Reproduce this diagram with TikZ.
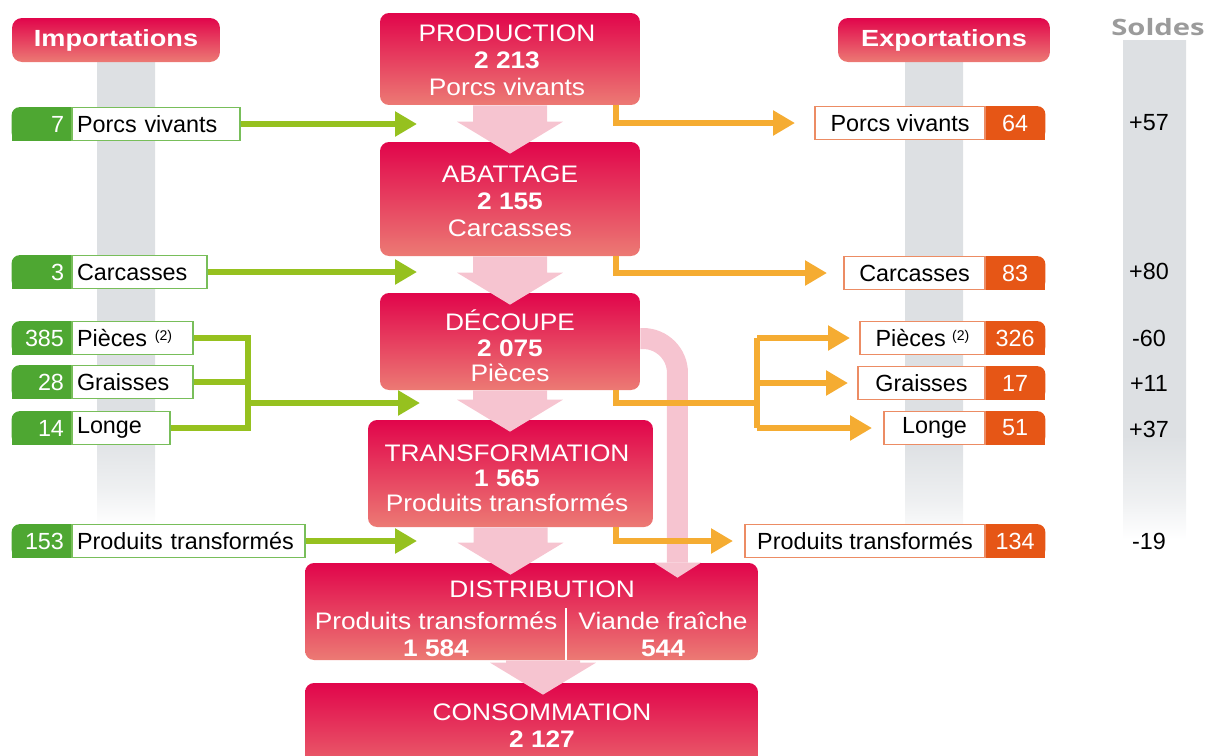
\documentclass[tikz,border=0pt]{standalone}
\usepackage{fontspec}
\setmainfont{Liberation Sans}
\newfontfamily\boxfont[FakeStretch=1.1]{Liberation Sans}
\newfontfamily\hdrfont[FakeStretch=1.16]{Liberation Sans}
\newfontfamily\soldfont[FakeStretch=1.3]{Open Sans}
\usetikzlibrary{arrows.meta,calc}

\definecolor{boxtop}{RGB}{225,5,75}
\definecolor{boxbot}{RGB}{236,122,116}
\definecolor{pinkarr}{RGB}{246,196,208}
\definecolor{gnum}{RGB}{78,167,50}
\definecolor{gborder}{RGB}{120,190,90}
\definecolor{garrow}{RGB}{150,193,31}
\definecolor{onum}{RGB}{230,86,22}
\definecolor{oborder}{RGB}{236,140,100}
\definecolor{oarrow}{RGB}{245,172,50}
\definecolor{colgray}{RGB}{221,224,227}
\definecolor{soldgray}{RGB}{155,155,155}

\pgfdeclareverticalshading{colfade}{100bp}{color(0bp)=(white); color(27bp)=(white); color(31bp)=(colgray!50); color(37bp)=(colgray); color(100bp)=(colgray)}

\pgfdeclarelayer{cols}
\pgfdeclarelayer{fills}
\pgfsetlayers{cols,fills,main}

\newcommand\roundTL[2]{\begin{pgfonlayer}{fills}
 \fill[#2,rounded corners=0.16cm] (#1.south west) rectangle (#1.north east);
 \fill[#2] ([yshift=-0.2cm]#1.north west) rectangle (#1.south east);
 \fill[#2] ([xshift=0.2cm]#1.north west) rectangle (#1.south east);
\end{pgfonlayer}}
\newcommand\roundTR[2]{\begin{pgfonlayer}{fills}
 \fill[#2,rounded corners=0.16cm] (#1.south west) rectangle (#1.north east);
 \fill[#2] ([yshift=-0.2cm]#1.north west) rectangle (#1.south east);
 \fill[#2] (#1.north west) rectangle ([xshift=-0.2cm]#1.south east);
\end{pgfonlayer}}
\newcommand\bigarrow[3]{%
 \coordinate (ba1) at ([xshift=#3]#1.south);
 \coordinate (ba2) at (ba1 |- #2.north);
 \fill[pinkarr] ([xshift=-0.74cm]ba1) -- ([xshift=0.74cm]ba1) -- ([xshift=0.74cm,yshift=0.4cm]ba2) -- ([xshift=1.06cm,yshift=0.4cm]ba2) -- ([yshift=-0.24cm]ba2) -- ([xshift=-1.06cm,yshift=0.4cm]ba2) -- ([xshift=-0.74cm,yshift=0.4cm]ba2) -- cycle;}
\newcommand\piecenote{\raisebox{0.45ex}{\fontsize{8}{8}\selectfont(2)}}

\tikzset{
 bigbox/.style={rounded corners=0.18cm, top color=boxtop, bottom color=boxbot, inner sep=0pt, draw=none},
 boxtxt/.style={text=white, align=center, inner sep=0pt, font=\boxfont\fontsize{13.6}{15.3}\selectfont},
 hdr/.style={rounded corners=0.2cm, top color=boxtop, bottom color=boxbot, text=white, minimum height=0.88cm, inner sep=0pt, font=\hdrfont\bfseries\fontsize{13.3}{15}\selectfont},
 soldehdr/.style={text=soldgray, inner sep=0pt, font=\soldfont\bfseries\fontsize{12.8}{14}\selectfont},
 solde/.style={text=black, inner sep=0pt, font=\fontsize{13.3}{15}\selectfont},
 lblbase/.style={minimum height=0.66cm, inner ysep=0pt, font=\fontsize{13.3}{15}\selectfont},
 impwhite/.style={lblbase, draw=gborder, line width=0.7pt, fill=white, align=left, inner xsep=0.1cm},
 impnum/.style={lblbase, text=white, minimum width=1.2cm, text width=0.88cm, align=right, inner xsep=0.16cm},
 expwhite/.style={lblbase, draw=oborder, line width=0.7pt, fill=white, align=center, inner xsep=0pt},
 expnum/.style={lblbase, text=white, minimum width=1.2cm, inner xsep=0pt},
 gline/.style={draw=garrow, line width=0.12cm},
 garr/.style={gline, -{Triangle[length=0.44cm,width=0.48cm]}},
 oline/.style={draw=oarrow, line width=0.12cm},
 oarr/.style={oline, -{Triangle[length=0.44cm,width=0.48cm]}},
 divider/.style={draw=white, line width=0.8pt},
}

\begin{document}
\begin{tikzpicture}[x=0.02cm, y=-0.02cm]
\useasboundingbox (0,0) rectangle (1209,755);
\clip (0,0) rectangle (1209,755);

% grey columns
\begin{pgfonlayer}{cols}
\shade[shading=colfade] (97,62) rectangle (155,545);
\shade[shading=colfade] (905,62) rectangle (963,560);
\shade[shading=colfade] (1123,40) rectangle (1186,560);
\end{pgfonlayer}

% headers
\node[hdr, minimum width=4.16cm] (himp) at (116,40) {Importations};
\node[hdr, minimum width=4.24cm] (hexp) at (944,40) {Exportations};
\node[soldehdr] (hsol) at (1158,27) {Soldes};

% central boxes
\node[bigbox, minimum width=5.2cm, minimum height=1.84cm] (prod) at (510,59) {};
\node[bigbox, minimum width=5.2cm, minimum height=2.28cm] (aba) at (510,199) {};
\node[bigbox, minimum width=5.2cm, minimum height=1.94cm] (dec) at (510,341.5) {};
\node[bigbox, minimum width=5.7cm, minimum height=2.14cm] (tra) at (510.5,473.5) {};
\node[bigbox, minimum width=9.06cm, minimum height=1.94cm] (dis) at (531.5,611.5) {};
\node[bigbox, minimum width=9.06cm, minimum height=2.14cm] (con) at (531.5,736.5) {};

\node[boxtxt] (tprod) at (507,60) {PRODUCTION\\\textbf{2 213}\\Porcs vivants};
\node[boxtxt] (taba) at (510,201) {ABATTAGE\\\textbf{2 155}\\Carcasses};
\node[boxtxt, font=\boxfont\fontsize{13.6}{14.6}\selectfont] (tdec) at (510,346) {DÉCOUPE\\\textbf{2 075}\\Pièces};
\node[boxtxt, font=\boxfont\fontsize{13.6}{14.3}\selectfont] (ttra) at (507,478) {TRANSFORMATION\\\textbf{1 565}\\Produits transformés};
\node[boxtxt] (tdis) at (542,589) {DISTRIBUTION};
\node[boxtxt] (tdisl) at (436,634) {Produits transformés\\\textbf{1 584}};
\node[boxtxt] (tdisr) at (663,634) {Viande fraîche\\\textbf{544}};
\draw[divider] ([xshift=0.69cm]dis.south) -- ++(0,-52);
\node[boxtxt] (tcon) at (542,726) {CONSOMMATION\\\textbf{2 127}};

% big pink arrows
\bigarrow{prod}{aba}{0cm}
\bigarrow{aba}{dec}{0cm}
\bigarrow{dec}{tra}{0cm}
\bigarrow{tra}{dis}{0cm}
\bigarrow{dis}{con}{0.23cm}
\draw[pinkarr, line width=0.42cm, rounded corners=0.69cm] ([yshift=0.06cm]dec.east) -| ([xshift=2.92cm]dis.north);
\fill[pinkarr] ([xshift=2.45cm]dis.north) -- ([xshift=3.39cm]dis.north) -- ([xshift=2.92cm,yshift=-0.3cm]dis.north) -- cycle;

% imports
\node[impnum] (i1n) at (42,124) {7};
\node[impwhite, text width=3.16cm] (i1) at (156,124) {Porcs vivants};
\node[impnum] (i2n) at (42,272) {3};
\node[impwhite, text width=2.50cm] (i2) at (139.5,272) {Carcasses};
\node[impnum] (i3n) at (42,338) {385};
\node[impwhite, text width=2.22cm] (i3) at (132.5,338) {Pièces \piecenote};
\node[impnum] (i4n) at (42,382) {28};
\node[impwhite, text width=2.22cm] (i4) at (132.5,382) {Graisses};
\node[impnum] (i5n) at (42,428) {14};
\node[impwhite, text width=1.76cm] (i5) at (121,428) {Longe};
\node[impnum] (i6n) at (42,541) {153};
\node[impwhite, text width=4.46cm] (i6) at (188.5,541) {Produits transformés};
\roundTL{i1n}{gnum}\roundTL{i2n}{gnum}\roundTL{i3n}{gnum}
\roundTL{i4n}{gnum}\roundTL{i5n}{gnum}\roundTL{i6n}{gnum}

% exports
\node[expwhite, minimum width=3.40cm] (e1) at (900,123) {Porcs vivants};
\node[expnum] (e1n) at (1015,123) {64};
\node[expwhite, minimum width=2.82cm] (e2) at (914.5,273) {Carcasses};
\node[expnum] (e2n) at (1015,273) {83};
\node[expwhite, minimum width=2.50cm] (e3) at (922.5,338) {Pièces \piecenote};
\node[expnum] (e3n) at (1015,338) {326};
\node[expwhite, minimum width=2.54cm] (e4) at (921.5,383) {Graisses};
\node[expnum] (e4n) at (1015,383) {17};
\node[expwhite, minimum width=2.02cm] (e5) at (934.5,428) {Longe};
\node[expnum] (e5n) at (1015,428) {51};
\node[expwhite, minimum width=4.80cm] (e6) at (865,541) {Produits transformés};
\node[expnum] (e6n) at (1015,541) {134};
\roundTR{e1n}{onum}\roundTR{e2n}{onum}\roundTR{e3n}{onum}
\roundTR{e4n}{onum}\roundTR{e5n}{onum}\roundTR{e6n}{onum}

% soldes
\node[solde] (s1) at (1149,123) {+57};
\node[solde] (s2) at (1149,271) {+80};
\node[solde] (s3) at (1149,338) {-60};
\node[solde] (s4) at (1149,383) {+11};
\node[solde] (s5) at (1149,429) {+37};
\node[solde] (s6) at (1149,541) {-19};

% green connectors
\coordinate (gt1) at (417,124);
\coordinate (gt2) at (417,272);
\coordinate (gj) at (248,403);
\coordinate (gt3) at (420,403);
\coordinate (gt4) at (417,541);
\draw[garr] (i1.east) -- (gt1);
\draw[garr] (i2.east) -- (gt2);
\draw[gline] (i3.east) -| (gj);
\draw[gline] (i5.east) -| (gj);
\draw[gline] (i4.east) -- (gj |- i4.east);
\draw[garr] (gj) -- (gt3);
\draw[garr] (i6.east) -- (gt4);

% orange connectors
\coordinate (ot1) at (795,123);
\coordinate (ot2) at (827,273);
\coordinate (oj) at (757,403);
\coordinate (ot3) at (850,338);
\coordinate (ot4) at (848,383);
\coordinate (ot5) at (872,428);
\coordinate (ot6) at (733,541);
\draw[oarr] ([xshift=-0.48cm]prod.south east) |- (ot1);
\draw[oarr] ([xshift=-0.48cm]aba.south east) |- (ot2);
\draw[oline] ([xshift=-0.48cm]dec.south east) |- (oj);
\draw[oline] (oj |- e3.west) -- (oj |- e5.west);
\draw[oarr] (oj |- e3.west) -- (ot3);
\draw[oarr] (oj |- e4.west) -- (ot4);
\draw[oarr] (oj |- e5.west) -- (ot5);
\draw[oarr] ([xshift=-0.74cm]tra.south east) |- (ot6);
\end{tikzpicture}
\end{document}
